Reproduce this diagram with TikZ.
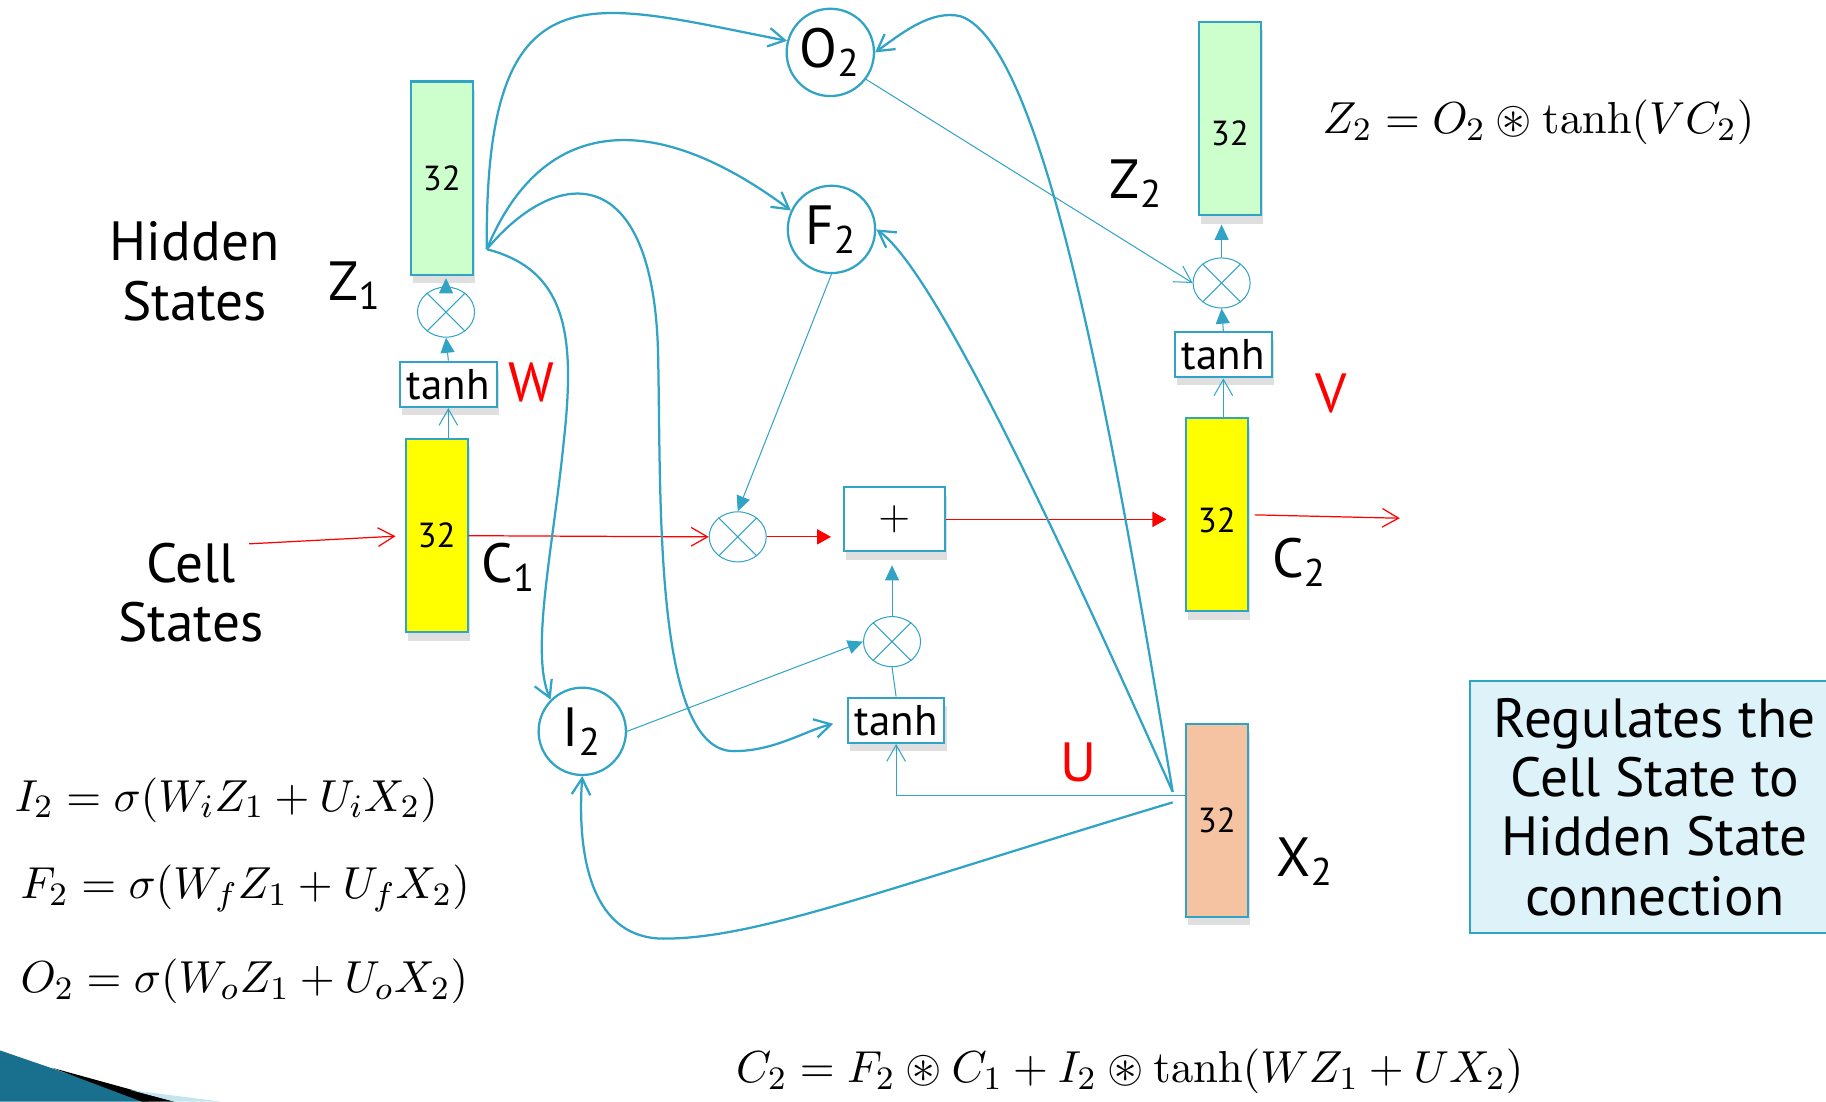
\documentclass[tikz,border=0pt]{standalone}
\usepackage{amsmath,amssymb}
\usepackage[no-math]{fontspec}
\setmainfont{PT Sans}
\usetikzlibrary{arrows.meta,shapes.geometric,shadows}

\definecolor{linkblue}{RGB}{49,163,196}
\definecolor{hidgreen}{RGB}{204,255,204}
\definecolor{cellyellow}{RGB}{255,255,0}
\definecolor{inpeach}{RGB}{245,195,162}
\definecolor{notecyan}{RGB}{221,243,249}
\definecolor{decoteal}{RGB}{24,112,142}
\definecolor{decolight}{RGB}{196,228,238}

\begin{document}
\begin{tikzpicture}[x=0.1mm,y=-0.1mm,
  every node/.style={font=\fontsize{13.5}{14.5}\selectfont},
  boxshadow/.style={drop shadow={shadow xshift=0.2mm,shadow yshift=-0.7mm,opacity=0.25}},
  vec/.style={draw=linkblue,line width=0.5pt,minimum width=5.3mm,minimum height=16.6mm,inner sep=0pt,boxshadow,font=\fontsize{8.5}{9}\selectfont},
  act/.style={draw=linkblue,line width=0.5pt,fill=white,minimum width=8.3mm,minimum height=3.9mm,inner sep=0pt,boxshadow,font=\fontsize{10.5}{11}\selectfont},
  gate/.style={circle,draw=linkblue,line width=0.55pt,fill=white,minimum size=7.5mm,inner sep=0pt},
  mult/.style={ellipse,draw=linkblue,line width=0.25pt,minimum width=4.9mm,minimum height=4.3mm,inner sep=0pt},
  eq/.style={font=\fontsize{11}{14}\selectfont,inner sep=0pt},
  wire/.style={draw=linkblue,line width=0.55pt},
  thinwire/.style={draw=linkblue,line width=0.25pt},
  cellwire/.style={draw=red,line width=0.3pt},
  openhead/.style={-{Straight Barb[length=1.4mm,width=1.6mm]}},
  fullhead/.style={-{Triangle[length=1.3mm,width=1.2mm]}},
  redfull/.style={-{Triangle[length=1.2mm,width=1.3mm]}}]
\useasboundingbox (0,0) rectangle (1568,946);

\fill[decoteal] (0,902) -- (128,946) -- (0,946) -- cycle;
\fill[black] (45,917) -- (150,946) -- (122,946) -- cycle;
\fill[decolight] (112,936) -- (190,946) -- (150,946) -- cycle;

\node[vec,fill=hidgreen] (z1) at (379.5,153) {32};
\node[mult] (mz1) at (383,268) {};
\node[act] (tz1) at (385,330) {tanh};
\node[vec,fill=cellyellow] (c1) at (375,460) {32};
\node[mult] (mc) at (633.5,461) {};
\node[draw=linkblue,line width=0.5pt,fill=white,minimum width=8.7mm,minimum height=5.5mm,boxshadow,font=\fontsize{10}{11}\selectfont] (plus) at (768,446) {$+$};
\node[vec,fill=cellyellow] (c2) at (1045,442) {\raisebox{-1.55mm}[0pt][0pt]{32}};
\node[act] (tz2) at (1050.5,304.5) {tanh};
\node[mult] (mz2) at (1049,243) {};
\node[vec,fill=hidgreen] (z2) at (1056,102) {\raisebox{-2.3mm}[0pt][0pt]{32}};
\node[gate] (o2) at (713,45) {O\textsubscript{2}};
\node[gate] (f2) at (714,197) {F\textsubscript{2}};
\node[gate] (i2) at (500,628) {I\textsubscript{2}};
\node[mult] (mi) at (766,551) {};
\node[act] (ti) at (769.5,618.5) {tanh};
\node[vec,fill=inpeach] (x2) at (1045,704.5) {32};

\foreach \m in {mz1,mc,mz2,mi}
  \draw[thinwire] (\m.45) -- (\m.225) (\m.135) -- (\m.315);

\node[align=center] (hid) at (167,233) {Hidden\\States};
\node[align=center] (cel) at (164,509) {Cell\\States};
\node (lz1) at (305,245) {Z\textsubscript{1}};
\node[text=red] (lw) at (456,328) {W};
\node (lc1) at (437,487) {C\textsubscript{1}};
\node (lz2) at (976,158) {Z\textsubscript{2}};
\node[text=red] (lv) at (1143,338) {V};
\node (lc2) at (1116,483) {C\textsubscript{2}};
\node[text=red] (lu) at (926,655) {U};
\node (lx2) at (1121,740) {X\textsubscript{2}};
\node[draw=linkblue,line width=0.5pt,fill=notecyan,minimum width=31.8mm,minimum height=21.6mm,align=center] (note) at (1421,693) {Regulates the\\Cell State to\\Hidden State\\connection};

\node[eq,anchor=west] (eqi) at (12,687) {$I_2=\sigma(W_iZ_1+U_iX_2)$};
\node[eq,anchor=west] (eqf) at (17,763) {$F_2=\sigma(W_fZ_1+U_fX_2)$};
\node[eq,anchor=west] (eqo) at (17,843) {$O_2=\sigma(W_oZ_1+U_oX_2)$};
\node[eq,font=\fontsize{11.4}{14}\selectfont] (eqz) at (1321,105) {$Z_2=O_2\circledast\tanh(VC_2)$};
\node[eq,font=\fontsize{11.4}{14}\selectfont] (eqc) at (970,920) {$C_2=F_2\circledast C_1+I_2\circledast\tanh(WZ_1+UX_2)$};

\coordinate (cin) at (214,467);
\coordinate (cout) at (1202,445);
\draw[cellwire,openhead,shorten >=0.8mm] (cin) -- (c1.west);
\draw[cellwire,openhead] (c1.east) -- (mc.west);
\draw[cellwire,redfull,shorten >=1mm] (mc.east) -- (mc.east -| plus.west);
\draw[cellwire,redfull,shorten >=1.6mm] (plus.east) -- (plus.east -| c2.west);
\draw[cellwire,openhead,shorten <=0.5mm] (c2.east) -- (cout);

\draw[thinwire,openhead] (tz1.south |- c1.north) -- (tz1.south);
\draw[thinwire,fullhead] (tz1.north) -- (mz1.south);
\draw[thinwire,fullhead,shorten >=0.2mm] (mz1.north) -- (mz1.north |- z1.south);
\draw[thinwire,openhead] (tz2.south |- c2.north) -- (tz2.south);
\draw[thinwire,fullhead] (tz2.north) -- (mz2.south);
\draw[thinwire,fullhead,shorten >=0.7mm] (mz2.north) -- (mz2.north |- z2.south);
\draw[thinwire] (ti.north) -- (mi.south);
\draw[thinwire,fullhead,shorten >=1.1mm] (mi.north) -- (mi.north |- plus.south);
\draw[thinwire,fullhead] (f2.south) -- (mc.north);
\draw[thinwire,fullhead] (i2.east) -- (mi.west);
\draw[thinwire,openhead] (o2.-37) -- (mz2.west);

\coordinate (zo) at (418,214);
\draw[wire,openhead] (zo) .. controls (416,-35) and (505,2) .. (o2.165);
\draw[wire,openhead] (zo) .. controls (465,100) and (560,92) .. (f2.155);
\draw[wire,openhead,shorten >=1.2mm] (zo) .. controls (480,140) and (560,140) .. (565,300)
  .. controls (568,420) and (560,645) .. (630,645) .. controls (665,645) and (690,628) .. (ti.west);
\draw[wire,openhead] (zo) .. controls (488,232) and (494,290) .. (484,380)
  .. controls (475,470) and (455,560) .. (i2.135);

\coordinate (xo) at (1007,680);
\coordinate (xi) at (1007,689);
\coordinate (ux) at (1018,683);
\draw[wire,openhead] (xo) .. controls (960,400) and (900,40) .. (825,14)
  .. controls (800,8) and (775,28) .. (o2.east);
\draw[wire,openhead] (xo) .. controls (900,440) and (800,230) .. (f2.east);
\draw[thinwire,openhead] (ux) -- (ux -| ti.south) -- (ti.south);
\draw[wire,openhead] (xi) .. controls (757,764) and (650,806) .. (570,806)
  .. controls (510,806) and (495,740) .. (i2.south);
\end{tikzpicture}
\end{document}
